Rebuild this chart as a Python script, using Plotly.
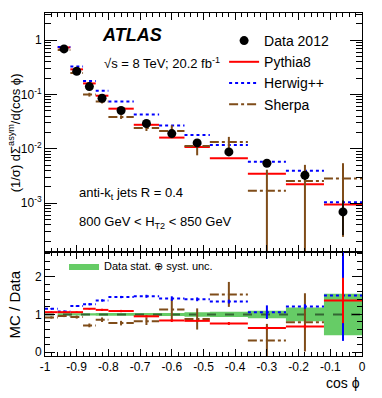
import plotly.graph_objects as go

# bin edges in cos(phi); the ratio panel has one extra bin at -1..-0.96
edges = [-0.96, -0.92, -0.88, -0.84, -0.80, -0.72, -0.64, -0.56, -0.48, -0.36, -0.24, -0.12, 0.0]
ratio_edges = [-1.0] + edges

# top panel: (1/sigma) dSigma_asym / d(cos phi)
data_vals = [0.69, 0.268, 0.14, 0.0855, 0.0507, 0.0292, 0.0191, 0.01285, 0.00877, 0.00543, 0.00327, 0.00069]
data_err = [0.02, 0.008, 0.004, 0.003, 0.0018, 0.0012, 0.0008, 0.0008, 0.0006, 0.00055, 0.0006, 0.00043]
pythia_vals = [0.735, 0.29, 0.16, 0.095, 0.0548, 0.0277, 0.0161, 0.0108, 0.0067, 0.00349, 0.00222, 0.00095]
herwig_vals = [0.75, 0.326, 0.178, 0.117, 0.074, 0.043, 0.027, 0.018, 0.0118, 0.00576, 0.00395, 0.00104]
sherpa_vals = [0.66, 0.25, 0.0995, 0.0745, 0.0385, 0.0243, 0.0214, 0.0113, 0.0134, 0.0017, 0.00257, 0.00284]
sherpa_err = [0.03, 0.012, 0.008, 0.006, 0.003, 0.003, 0.0057, 0.0037, 0.0032, 0.0024, 0.0025, 0.0026]

# bottom panel: MC / Data
pythia_ratio = [1.06, 1.06, 1.06, 1.15, 1.12, 1.09, 0.95, 0.84, 0.83, 0.76, 0.64, 0.68, 1.37]
pythia_ratio_err = [0.02, 0.02, 0.02, 0.02, 0.03, 0.03, 0.03, 0.04, 0.03, 0.04, 0.04, 0.05, 0.6]
herwig_ratio = [1.15, 1.08, 1.22, 1.27, 1.37, 1.46, 1.48, 1.42, 1.40, 1.34, 1.06, 1.21, 1.5]
herwig_ratio_err = [0.02, 0.02, 0.02, 0.03, 0.03, 0.03, 0.04, 0.06, 0.05, 0.05, 0.18, 0.06, 1.2]
sherpa_ratio = [0.92, 0.96, 0.93, 0.71, 0.86, 0.77, 0.82, 1.13, 0.88, 1.53, 0.31, 0.79, None]
sherpa_ratio_err = [0.03, 0.03, 0.04, 0.05, 0.06, 0.06, 0.1, 0.29, 0.28, 0.33, 0.44, 0.77, None]
band_ratio = [None, 0.03, 0.03, 0.03, 0.035, 0.035, 0.04, 0.04, 0.06, 0.07, 0.1, 0.18, 0.55]

x_ticks = [-1, -0.9, -0.8, -0.7, -0.6, -0.5, -0.4, -0.3, -0.2, -0.1, 0]
x_ticktext = ["-1", "-0.9", "-0.8", "-0.7", "-0.6", "-0.5", "-0.4", "-0.3", "-0.2", "-0.1", "0"]
y_ticks = [1e-3, 1e-2, 1e-1, 1]
y_ticktext = ["10<sup>-3</sup>", "10<sup>-2</sup>", "10<sup>-1</sup>", "1"]

RED = '#ff0000'
BLUE = '#0000ff'
BROWN = '#7f4c19'
GREEN = '#66cc66'
FONT = 'Liberation Sans, Arial, sans-serif'


def segments(bin_edges, vals):
    xs, ys = [], []
    for lo, hi, v in zip(bin_edges[:-1], bin_edges[1:], vals):
        if v is None:
            continue
        xs += [lo, hi, None]
        ys += [v, v, None]
    return xs, ys


def centers(bin_edges):
    return [(lo + hi) / 2 for lo, hi in zip(bin_edges[:-1], bin_edges[1:])]


fig = go.Figure()

# ---- top panel ----
mc_styles = [
    ('Pythia8', pythia_vals, RED, 'solid', 2),
    ('Herwig++', herwig_vals, BLUE, 'dot', 3),
    ('Sherpa', sherpa_vals, BROWN, 'dashdot', 4),
]
for name, vals, color, dash, rank in mc_styles:
    xs, ys = segments(edges, vals)
    fig.add_trace(go.Scatter(
        x=xs, y=ys, mode='lines', name=name,
        line=dict(color=color, width=2, dash=dash),
        xaxis='x', yaxis='y', legend='legend', legendrank=rank
    ))

fig.add_trace(go.Scatter(
    x=centers(edges), y=sherpa_vals, mode='markers', showlegend=False,
    marker=dict(size=1, color=BROWN),
    error_y=dict(type='data', array=sherpa_err, color=BROWN, thickness=2, width=0),
    xaxis='x', yaxis='y'
))

fig.add_trace(go.Scatter(
    x=centers(edges), y=data_vals, mode='markers', name='Data 2012',
    marker=dict(size=9, color='black'),
    error_y=dict(type='data', array=data_err, color='black', thickness=1.5, width=0),
    xaxis='x', yaxis='y', legend='legend', legendrank=1
))

# ---- ratio panel ----
bx, by = [], []
for lo, hi, b in zip(ratio_edges[:-1], ratio_edges[1:], band_ratio):
    if b is None:
        continue
    bx += [lo, hi, hi, lo, lo, None]
    by += [1 - b, 1 - b, 1 + b, 1 + b, 1 - b, None]
fig.add_trace(go.Scatter(
    x=bx, y=by, mode='lines', fill='toself', fillcolor=GREEN,
    line=dict(width=0, color=GREEN), name='Data stat. \u2295 syst. unc.',
    xaxis='x2', yaxis='y2', legend='legend2'
))

fig.add_trace(go.Scatter(
    x=[-1, 0], y=[1, 1], mode='lines', showlegend=False,
    line=dict(color='#336633', width=2, dash='dash'),
    xaxis='x2', yaxis='y2'
))

ratio_styles = [
    (sherpa_ratio, sherpa_ratio_err, BROWN, 'dashdot'),
    (herwig_ratio, herwig_ratio_err, BLUE, 'dot'),
    (pythia_ratio, pythia_ratio_err, RED, 'solid'),
]
for vals, errs, color, dash in ratio_styles:
    xs, ys = segments(ratio_edges, vals)
    fig.add_trace(go.Scatter(
        x=xs, y=ys, mode='lines', showlegend=False,
        line=dict(color=color, width=2, dash=dash),
        xaxis='x2', yaxis='y2'
    ))
    fig.add_trace(go.Scatter(
        x=centers(ratio_edges), y=vals, mode='markers', showlegend=False,
        marker=dict(size=1, color=color),
        error_y=dict(type='data', array=errs, color=color, thickness=2, width=0),
        xaxis='x2', yaxis='y2'
    ))

# ---- text ----
annotations = [
    dict(text='<b><i>ATLAS</i></b>', x=0.175, y=0.935, font=dict(size=18)),
    dict(text='\u221as = 8 TeV; 20.2 fb<sup>-1</sup>', x=0.18, y=0.855, font=dict(size=13)),
    dict(text='anti-k<sub>t</sub> jets R = 0.4', x=0.1, y=0.475, font=dict(size=13)),
    dict(text='800 GeV < H<sub>T2</sub> < 850 GeV', x=0.1, y=0.39, font=dict(size=13)),
]
for a in annotations:
    a.update(xref='paper', yref='paper', xanchor='left', yanchor='middle', showarrow=False)

annotations += [
    dict(text='(1/\u03c3) d\u03a3<sup>asym</sup>/d(cos \u03d5)', textangle=-90,
         xref='paper', yref='paper', x=-0.097, y=0.65, xanchor='center', yanchor='middle',
         showarrow=False, font=dict(size=13)),
    dict(text='MC / Data', textangle=-90,
         xref='paper', yref='paper', x=-0.095, y=0.15, xanchor='center', yanchor='middle',
         showarrow=False, font=dict(size=15)),
    dict(text='cos \u03d5', xref='paper', yref='paper', x=1.0, y=-0.05,
         xanchor='right', yanchor='top', showarrow=False, font=dict(size=14)),
]

axis_common = dict(
    showline=True, linecolor='black', linewidth=1, mirror='ticks',
    ticks='inside', tickcolor='black', showgrid=False, zeroline=False,
)

fig.update_layout(
    width=382, height=398,
    margin=dict(l=45, r=20, t=13, b=42),
    paper_bgcolor='white', plot_bgcolor='white',
    font=dict(family=FONT, color='black', size=12),
    annotations=annotations,
    xaxis=dict(
        **axis_common, domain=[0, 1], anchor='y', matches='x2', range=[-1, 0],
        tickvals=x_ticks, ticklen=7, showticklabels=False,
        minor=dict(dtick=0.02, ticks='inside', ticklen=4, tickcolor='black'),
    ),
    yaxis=dict(
        **axis_common, domain=[0.303, 1], anchor='x', type='log', range=[-3.9, 0.5],
        tickvals=y_ticks, ticktext=y_ticktext, ticklen=12,
        minor=dict(dtick='D1', ticks='inside', ticklen=6, tickcolor='black'),
        tickfont=dict(size=12),
    ),
    xaxis2=dict(
        **axis_common, domain=[0, 1], anchor='y2', range=[-1, 0],
        tickvals=x_ticks, ticktext=x_ticktext, ticklen=7,
        minor=dict(dtick=0.02, ticks='inside', ticklen=4, tickcolor='black'),
        tickfont=dict(size=12),
    ),
    yaxis2=dict(
        **axis_common, domain=[0, 0.303], anchor='x2', range=[-0.1, 2.65],
        tickvals=[0, 1, 2], ticklen=10,
        minor=dict(dtick=0.2, ticks='inside', ticklen=5, tickcolor='black'),
        tickfont=dict(size=12),
    ),
    legend=dict(
        x=0.565, y=0.965, xanchor='left', yanchor='top',
        bgcolor='rgba(0,0,0,0)', font=dict(size=14), itemwidth=30,
        traceorder='normal',
    ),
    legend2=dict(
        x=0.06, y=0.305, xanchor='left', yanchor='top',
        bgcolor='rgba(0,0,0,0)', font=dict(size=11), itemwidth=30,
    ),
)

# drop the default 8px page margin so the figure fills the window exactly
fig.write_html("out.html", config={'displayModeBar': False},
               post_script="document.body.style.margin='0px';")
